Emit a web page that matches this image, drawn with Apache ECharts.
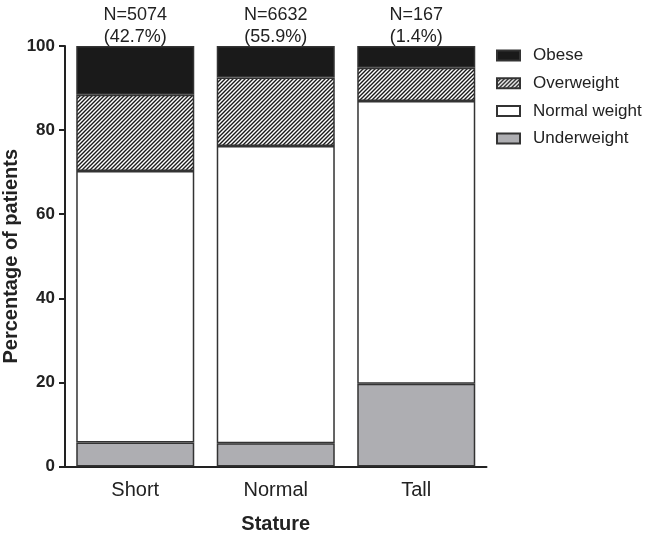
<!DOCTYPE html>
<html>
<head>
<meta charset="utf-8">
<script src="https://cdn.jsdelivr.net/npm/echarts@6/dist/echarts.min.js"></script>
<style>
  html, body { margin: 0; padding: 0; background: #fff; }
  #chart { width: 646px; height: 539px; }
</style>
</head>
<body>
<div id="chart"></div>
<script>
// 身材分组
var categories = ['Short', 'Normal', 'Tall']
// 每组的人数标注
var topLabels = ['N=5074\n(42.7%)', 'N=6632\n(55.9%)', 'N=167\n(1.4%)']
// 各段百分比（从下往上叠）
var underweight = [5.7, 5.5, 19.7]
var normalWeight = [64.6, 70.7, 67.2]
var overweight = [18.1, 16.3, 7.9]
var obese = [11.6, 7.5, 5.2]
var yTicks = [0, 20, 40, 60, 80, 100]

// 斜线填充
function hatch () {
  var s = 4
  var c = document.createElement('canvas')
  c.width = s
  c.height = s
  var ctx = c.getContext('2d')
  ctx.fillStyle = '#fff'
  ctx.fillRect(0, 0, s, s)
  ctx.strokeStyle = '#1a1a1a'
  ctx.lineWidth = 1.4
  ctx.beginPath()
  ctx.moveTo(-1, s + 1); ctx.lineTo(s + 1, -1)
  ctx.moveTo(-1, 1); ctx.lineTo(1, -1)
  ctx.moveTo(s - 1, s + 1); ctx.lineTo(s + 1, s - 1)
  ctx.stroke()
  return c
}

var chart = echarts.init(document.getElementById('chart'))
var font = 'Liberation Sans, Arial, sans-serif'
var edge = { borderColor: '#333', borderWidth: 1.5 }

function seg (name, data, color) {
  return {
    name: name,
    type: 'bar',
    stack: 'all',
    barCategoryGap: '16%',
    data: data,
    itemStyle: Object.assign({ color: color }, edge),
    emphasis: { disabled: true }
  }
}

var series = [
  seg('Underweight', underweight, '#aeaeb2'),
  seg('Normal weight', normalWeight, '#ffffff'),
  seg('Overweight', overweight, { image: hatch(), repeat: 'repeat' }),
  seg('Obese', obese, '#1a1a1a')
]
series[3].label = {
  show: true,
  position: 'top',
  distance: -2,
  color: '#222',
  fontFamily: font,
  fontSize: 18,
  lineHeight: 22,
  align: 'center',
  formatter: function (p) { return topLabels[p.dataIndex] }
}

var option = {
  animation: false,
  backgroundColor: '#fff',
  textStyle: { fontFamily: font },
  grid: { left: 65, top: 46, right: 159.5, bottom: 72.5, containLabel: false, outerBoundsMode: 'none' },
  legend: {
    data: ['Obese', 'Overweight', 'Normal weight', 'Underweight'],
    orient: 'vertical',
    left: 496,
    top: 47,
    padding: 0,
    itemWidth: 23,
    itemHeight: 10,
    itemGap: 10.7,
    icon: 'rect',
    selectedMode: false,
    textStyle: { fontSize: 17, color: '#222', fontFamily: font, padding: [0, 0, 0, 8] }
  },
  xAxis: {
    type: 'category',
    data: categories,
    name: 'Stature',
    nameLocation: 'middle',
    nameGap: 48,
    nameMoveOverlap: false,
    nameTextStyle: { fontSize: 20, fontWeight: 'bold', color: '#222' },
    axisLine: { lineStyle: { color: '#222', width: 2 } },
    axisTick: { show: false },
    axisLabel: { fontSize: 20, color: '#222', margin: 14 }
  },
  yAxis: {
    type: 'value',
    min: yTicks[0],
    max: yTicks[yTicks.length - 1],
    interval: yTicks[1] - yTicks[0],
    name: 'Percentage of patients',
    nameLocation: 'middle',
    nameGap: 44,
    nameMoveOverlap: false,
    nameTextStyle: { fontSize: 20, fontWeight: 'bold', color: '#222' },
    axisLine: { show: true, lineStyle: { color: '#222', width: 2 } },
    axisTick: { show: true, length: 6, lineStyle: { color: '#222', width: 2 } },
    axisLabel: { fontSize: 17, fontWeight: 'bold', color: '#222', margin: 10 },
    splitLine: { show: false }
  },
  series: series
}

chart.setOption(option)
</script>
</body>
</html>
